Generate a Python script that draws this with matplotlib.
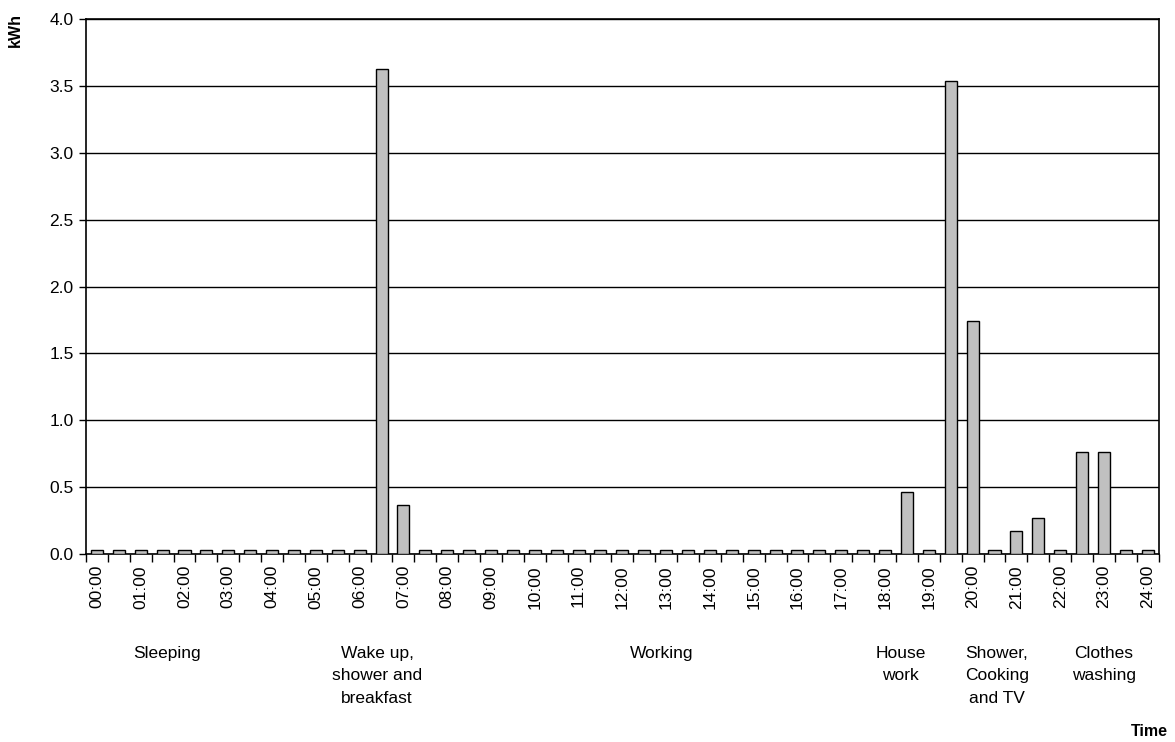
import matplotlib
matplotlib.use("Agg")
import matplotlib.pyplot as plt
import numpy as np

plt.rcParams['font.family'] = ['Liberation Sans', 'DejaVu Sans']

# Half-hourly slots from 00:00 to 24:00
slots = [f"{h:02d}:{m:02d}" for h in range(24) for m in (0, 30)] + ["24:00"]
base = 0.03
energy = [base] * len(slots)
peaks = {
    "06:30": 3.63,
    "07:00": 0.37,
    "18:30": 0.46,
    "19:30": 3.54,
    "20:00": 1.74,
    "21:00": 0.17,
    "21:30": 0.27,
    "22:30": 0.76,
    "23:00": 0.76,
}
for k, v in peaks.items():
    energy[slots.index(k)] = v

hour_labels = [s for s in slots if s.endswith(":00")]

activities = ["Sleeping", "Wake up,\nshower and\nbreakfast", "Working",
              "House\nwork", "Shower,\nCooking\nand TV", "Clothes\nwashing"]
activity_pos = [3.2, 12.8, 25.8, 36.7, 41.1, 46.0]

fig = plt.figure(figsize=(11.75, 7.42), dpi=100)
ax = fig.add_axes([0.0732, 0.2534, 0.9129, 0.7206])

x = np.arange(len(slots))
ax.bar(x, energy, width=0.55, color="#c0c0c0", edgecolor="black",
       linewidth=1.0, zorder=3)

ax.set_xlim(-0.5, len(slots) - 0.5)
ax.set_ylim(0, 4.0)
ax.set_yticks(np.arange(0, 4.01, 0.5))
ax.set_yticklabels([f"{v:.1f}" for v in np.arange(0, 4.01, 0.5)], fontsize=12.5)
ax.yaxis.grid(True, color="black", linewidth=1.0, zorder=0)
ax.tick_params(axis="y", length=5, width=1, color="black", pad=4)

# boundary ticks between slots, labels centred on the full hours
ax.set_xticks(np.arange(-0.5, len(slots), 1.0))
ax.set_xticklabels([])
ax.tick_params(axis="x", which="major", length=6, width=1, color="black")
label_pos = [slots.index(s) for s in hour_labels]
ax.set_xticks(label_pos, minor=True)
ax.set_xticklabels(hour_labels, minor=True, rotation=90, fontsize=12.5)
ax.tick_params(axis="x", which="minor", length=0, pad=8)

for sp in ax.spines.values():
    sp.set_color("black")
    sp.set_linewidth(1.2)

for txt, pos in zip(activities, activity_pos):
    ax.text(pos, -0.69, txt, ha="center", va="top", fontsize=12.5,
            linespacing=1.6, transform=ax.transData)

fig.text(0.0128, 0.96, "kWh", rotation=90, ha="center", va="center",
         fontsize=11.5, fontweight="bold")
fig.text(0.978, 0.004, "Time", ha="center", va="bottom",
         fontsize=11.5, fontweight="bold")

fig.savefig("out.png", dpi=100)
